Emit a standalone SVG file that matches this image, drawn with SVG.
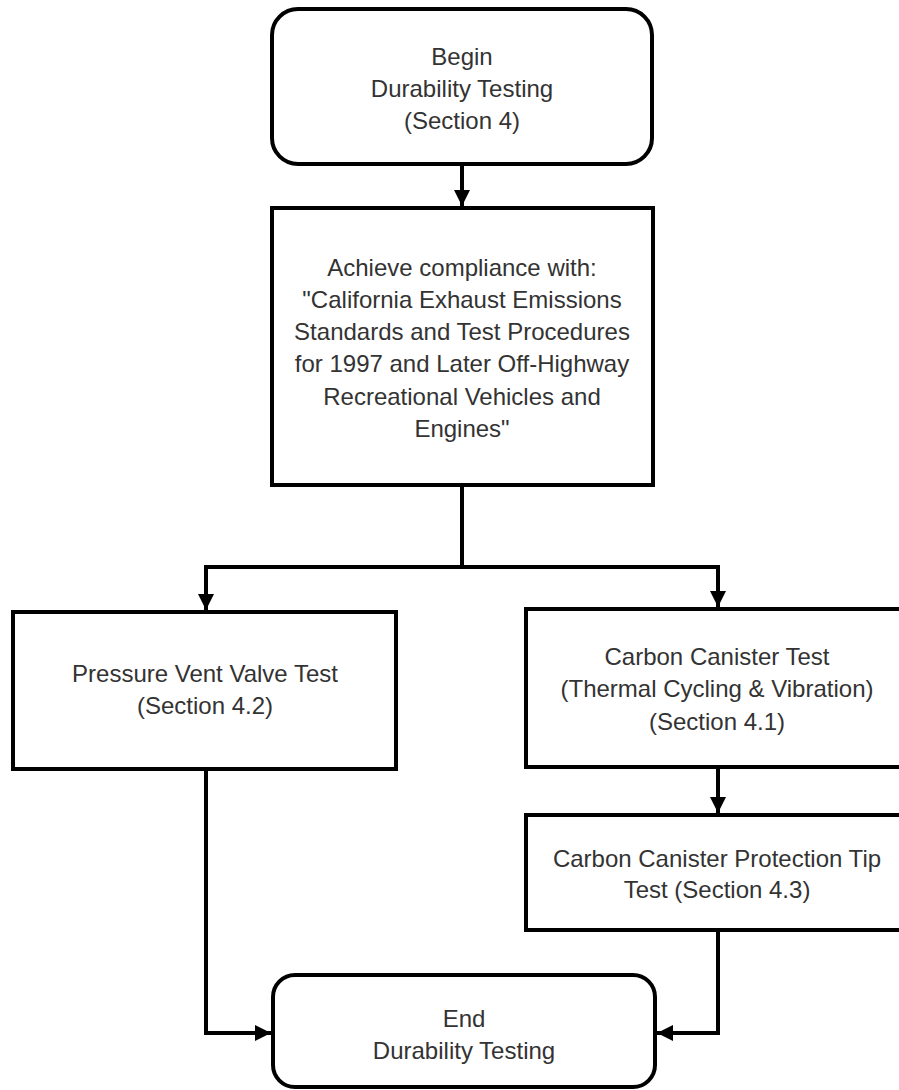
<svg xmlns="http://www.w3.org/2000/svg" width="899" height="1090" viewBox="0 0 899 1090">
<defs>
<style>
.box{fill:#fff;stroke:#000;stroke-width:4;}
.t{font-family:"Liberation Sans",Arial,sans-serif;font-size:24px;fill:#333;text-anchor:middle;}
.c{fill:none;stroke:#000;stroke-width:4;stroke-linejoin:miter;}
</style>
<marker id="ah" markerUnits="userSpaceOnUse" markerWidth="16" markerHeight="16" refX="14" refY="7" orient="auto" viewBox="0 0 14 14">
<path d="M0,0 L14,7 L0,14 Z" fill="#000"/>
</marker>
</defs>
<rect width="899" height="1090" fill="#fff"/>
<g id="connectors">
<path class="c" d="M462,165 V206" marker-end="url(#ah)"/>
<path class="c" d="M462,487 V567 H206 V610" marker-end="url(#ah)"/>
<path class="c" d="M462,567 H718 V607" marker-end="url(#ah)"/>
<path class="c" d="M718,769 V813" marker-end="url(#ah)"/>
<path class="c" d="M206,771 V1033 H271" marker-end="url(#ah)"/>
<path class="c" d="M718,932 V1033 H657" marker-end="url(#ah)"/>
</g>
<g id="begin">
<rect class="box" x="272" y="9" width="380" height="155" rx="26"/>
<text class="t" x="462" y="65">Begin</text>
<text class="t" x="462" y="97">Durability Testing</text>
<text class="t" x="462" y="129">(Section 4)</text>
</g>
<g id="compliance">
<rect class="box" x="272" y="208" width="381" height="277"/>
<text class="t" x="462" y="276">Achieve compliance with:</text>
<text class="t" x="462" y="308">"California Exhaust Emissions</text>
<text class="t" x="462" y="340">Standards and Test Procedures</text>
<text class="t" x="462" y="372">for 1997 and Later Off-Highway</text>
<text class="t" x="462" y="405">Recreational Vehicles and</text>
<text class="t" x="462" y="437">Engines"</text>
</g>
<g id="pressure">
<rect class="box" x="13" y="612" width="383" height="157"/>
<text class="t" x="205" y="682">Pressure Vent Valve Test</text>
<text class="t" x="205" y="714">(Section 4.2)</text>
</g>
<g id="canister">
<rect class="box" x="526" y="609" width="384" height="158"/>
<text class="t" x="717" y="665">Carbon Canister Test</text>
<text class="t" x="717" y="697">(Thermal Cycling &amp; Vibration)</text>
<text class="t" x="717" y="730">(Section 4.1)</text>
</g>
<g id="protection">
<rect class="box" x="526" y="815" width="384" height="115"/>
<text class="t" x="717" y="867">Carbon Canister Protection Tip</text>
<text class="t" x="717" y="898">Test (Section 4.3)</text>
</g>
<g id="end">
<rect class="box" x="273" y="975" width="382" height="112" rx="22"/>
<text class="t" x="464" y="1027">End</text>
<text class="t" x="464" y="1059">Durability Testing</text>
</g>
</svg>
